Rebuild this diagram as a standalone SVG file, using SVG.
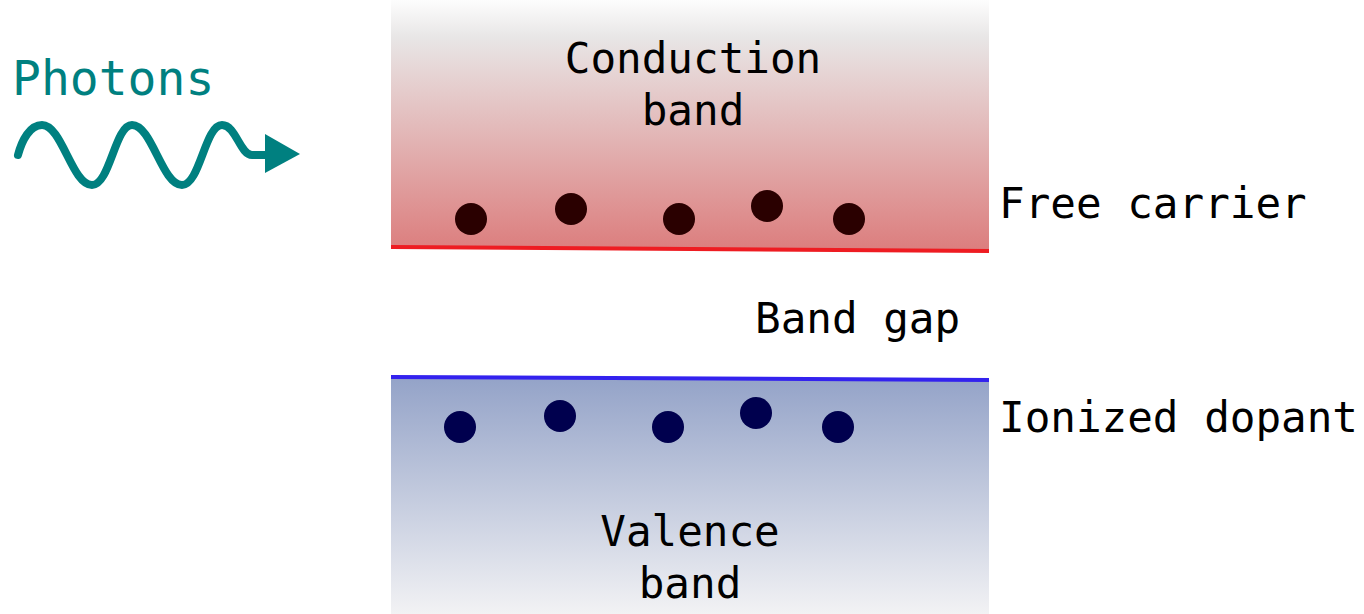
<svg xmlns="http://www.w3.org/2000/svg" width="1364" height="614" viewBox="0 0 1364 614">
<defs>
<linearGradient id="gc" x1="0" y1="0" x2="0" y2="1">
<stop offset="0" stop-color="#fdfdfd"/>
<stop offset="0.15" stop-color="#e8e6e6"/>
<stop offset="1" stop-color="#dc7e7e"/>
</linearGradient>
<linearGradient id="gv" x1="0" y1="0" x2="0" y2="1">
<stop offset="0" stop-color="#94a3c8"/>
<stop offset="1" stop-color="#f2f2f4"/>
</linearGradient>
</defs>
<style>
.t{font-family:"DejaVu Sans Mono","Liberation Mono",monospace;font-size:42.6px;fill:#000}
.e{fill:#2a0000}
.h{fill:#00004e}
</style>
<g id="conduction-band">
<rect x="391" y="0" width="598" height="249" fill="url(#gc)"/>
<line x1="391" y1="247" x2="989" y2="251" stroke="#ee1c22" stroke-width="4"/>
<text class="t" x="693" y="73" text-anchor="middle">Conduction</text>
<text class="t" x="693" y="125" text-anchor="middle">band</text>
</g>
<g id="free-carriers">
<ellipse class="e" cx="471" cy="219" rx="16" ry="16"/>
<ellipse class="e" cx="571" cy="209" rx="16" ry="16"/>
<ellipse class="e" cx="679" cy="219" rx="16" ry="16"/>
<ellipse class="e" cx="767" cy="206" rx="16" ry="16"/>
<ellipse class="e" cx="849" cy="219" rx="16" ry="16"/>
</g>
<g id="valence-band">
<rect x="391" y="378" width="598" height="236" fill="url(#gv)"/>
<line x1="391" y1="377" x2="989" y2="380" stroke="#3322ee" stroke-width="4"/>
<text class="t" x="690" y="546" text-anchor="middle">Valence</text>
<text class="t" x="690" y="598" text-anchor="middle">band</text>
</g>
<g id="ionized-dopants">
<ellipse class="h" cx="460" cy="427" rx="16" ry="16"/>
<ellipse class="h" cx="560" cy="416" rx="16" ry="16"/>
<ellipse class="h" cx="668" cy="427" rx="16" ry="16"/>
<ellipse class="h" cx="756" cy="413" rx="16" ry="16"/>
<ellipse class="h" cx="838" cy="427" rx="16" ry="16"/>
</g>
<g id="labels">
<text class="t" x="999" y="218">Free carrier</text>
<text class="t" x="755" y="333">Band gap</text>
<text class="t" x="999" y="432">Ionized dopant</text>
</g>
<g id="photons">
<text x="12" y="95" style="font-family:'DejaVu Sans Mono','Liberation Mono',monospace;font-size:48px;fill:#008080">Photons</text>
<path d="M18,155 C22,140 30,125 42,125 C62,125 72,185 92,185 C110,185 115,125 132,125 C152,125 162,185 182,185 C200,185 205,125 222,125 C236,125 240,155 252,155 L270,155" fill="none" stroke="#008080" stroke-width="8" stroke-linecap="round" stroke-linejoin="round"/>
<polygon points="265,134 300,154 265,173" fill="#008080"/>
</g>
</svg>
